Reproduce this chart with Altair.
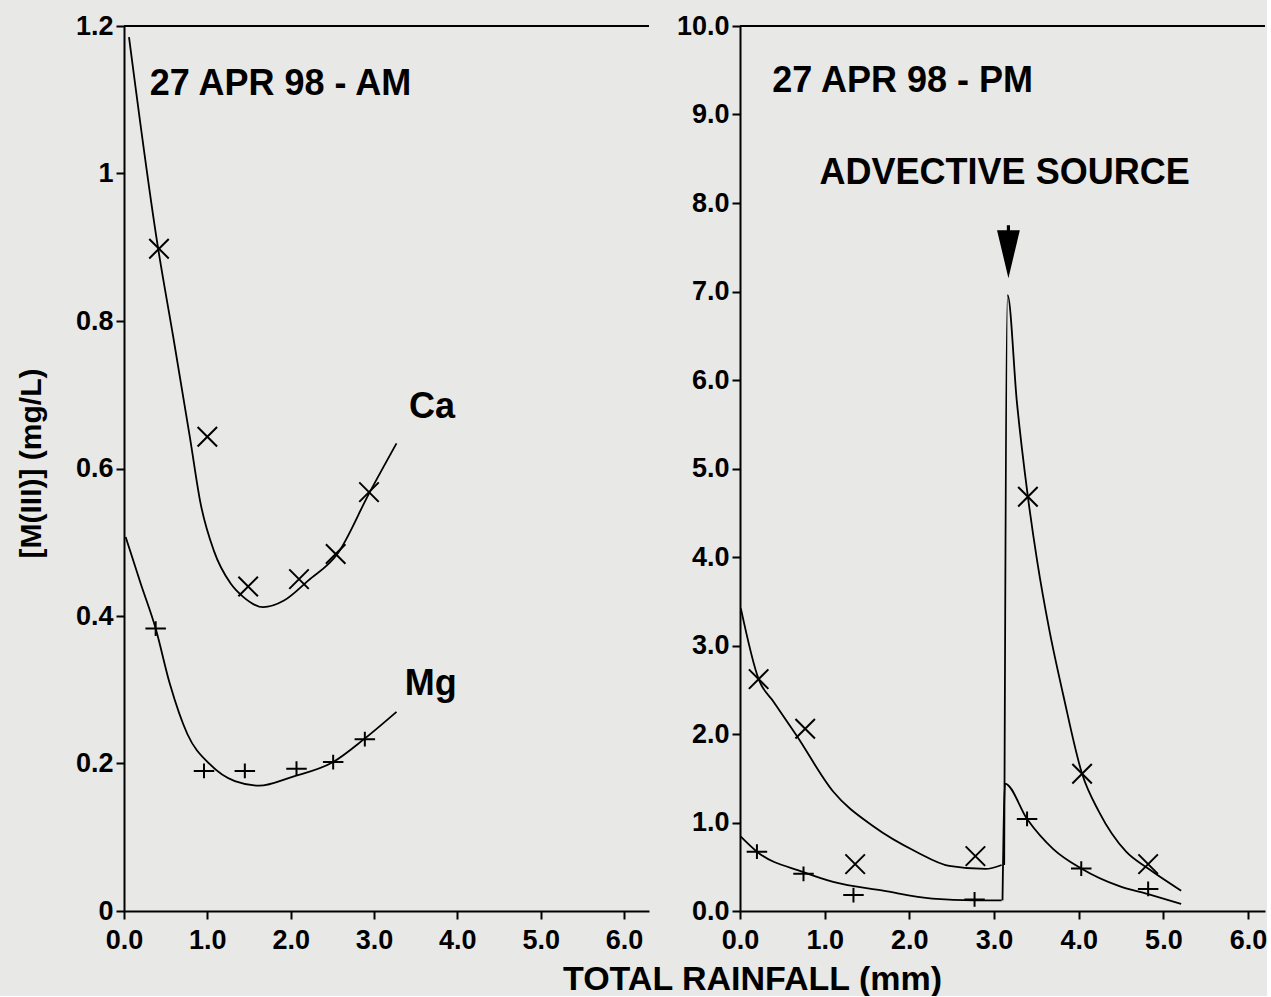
import altair as alt
import pandas as pd

# ---------------- data ----------------
# Left panel: 27 APR 98 - AM
am_ca_pts_x = [0.42, 1.00, 1.49, 2.10, 2.54, 2.94]
am_ca_pts_y = [0.898, 0.643, 0.440, 0.450, 0.484, 0.568]
am_mg_pts_x = [0.38, 0.96, 1.45, 2.07, 2.51, 2.89]
am_mg_pts_y = [0.383, 0.190, 0.190, 0.193, 0.202, 0.233]

am_ca_fit_x = [0.06, 0.41, 0.59, 0.79, 0.92, 1.08, 1.28, 1.43, 1.67, 1.92, 2.21, 2.56, 2.94, 3.27]
am_ca_fit_y = [1.185, 0.898, 0.779, 0.643, 0.552, 0.488, 0.444, 0.426, 0.412, 0.421, 0.448, 0.484, 0.566, 0.634]
am_mg_fit_x = [0.02, 0.20, 0.38, 0.55, 0.76, 1.03, 1.33, 1.62, 2.02, 2.51, 2.88, 3.27]
am_mg_fit_y = [0.507, 0.444, 0.383, 0.308, 0.240, 0.199, 0.176, 0.170, 0.182, 0.202, 0.233, 0.270]

# Right panel: 27 APR 98 - PM
pm_ca_pts_x = [0.22, 0.77, 1.36, 2.78, 3.40, 4.04, 4.82]
pm_ca_pts_y = [2.62, 2.06, 0.53, 0.62, 4.68, 1.55, 0.53]
pm_mg_pts_x = [0.20, 0.75, 1.34, 2.77, 3.39, 4.03, 4.82]
pm_mg_pts_y = [0.67, 0.42, 0.18, 0.13, 1.04, 0.48, 0.25]

pm_ca_fit1_x = [0.01, 0.22, 0.40, 0.67, 1.10, 1.57, 2.08, 2.47, 2.90, 3.09]
pm_ca_fit1_y = [3.42, 2.62, 2.36, 1.98, 1.35, 0.96, 0.67, 0.51, 0.475, 0.52]
pm_ca_fit2_x = [3.12, 3.16, 3.27, 3.40, 3.51, 3.65, 3.82, 4.04, 4.24, 4.56, 4.82, 5.21]
pm_ca_fit2_y = [0.52, 6.96, 5.75, 4.68, 3.95, 3.19, 2.43, 1.55, 1.12, 0.67, 0.48, 0.23]
pm_mg_fit1_x = [0.01, 0.20, 0.75, 1.10, 1.69, 2.27, 2.77, 3.09]
pm_mg_fit1_y = [0.84, 0.67, 0.44, 0.33, 0.23, 0.14, 0.12, 0.12]
pm_mg_fit2_x = [3.10, 3.13, 3.39, 3.70, 4.03, 4.48, 4.82, 5.21]
pm_mg_fit2_y = [0.12, 1.44, 1.04, 0.70, 0.48, 0.28, 0.19, 0.08]

x_ticks = [0, 1, 2, 3, 4, 5, 6]
am_y_ticks = [0, 0.2, 0.4, 0.6, 0.8, 1.0, 1.2]
pm_y_ticks = [0, 1, 2, 3, 4, 5, 6, 7, 8, 9, 10]

am_labels = ["27 APR 98 - AM", "Ca", "Mg"]
am_label_x = [0.31, 3.42, 3.37]
am_label_y = [1.122, 0.684, 0.308]
pm_labels = ["27 APR 98 - PM", "ADVECTIVE SOURCE"]
pm_label_x = [0.38, 0.94]
pm_label_y = [9.38, 8.34]
arrow_x = [3.17]
arrow_y = [7.45]

# ---------------- styling ----------------
FONT = "Liberation Sans"
BG = "#e8e8e6"
X_PATH = "M -1 -1 L 1 1 M -1 1 L 1 -1"
PLUS_PATH = "M -1 0 L 1 0 M 0 -0.72 L 0 0.72"
ARROW_PATH = ("M -0.06 -1 L 0.06 -1 L 0.06 -0.81 L 0.43 -0.81 L 0 1 "
              "L -0.43 -0.81 L -0.06 -0.81 Z")

axis_style = dict(domainColor="black", domainWidth=2, tickColor="black",
                  tickWidth=2, tickSize=8, labelFont=FONT, labelFontSize=27,
                  labelFontWeight="bold", labelColor="black", grid=False,
                  labelFlush=False, labelOverlap=False,
                  titleFont=FONT, titleFontWeight="bold", titleColor="black")


def df(xs, ys):
    return pd.DataFrame({"x": xs, "y": ys})


def panel(xdom, ydom, width, height, xaxis, yaxis, fits, ca_pts, mg_pts,
          labels, ymax, extra=None):
    xs = alt.Scale(domain=xdom, nice=False, zero=False)
    ys = alt.Scale(domain=ydom, nice=False, zero=False)
    X = alt.X("x:Q", scale=xs, axis=xaxis)
    Y = alt.Y("y:Q", scale=ys, axis=yaxis)
    layers = []
    for fx, fy in fits:
        layers.append(
            alt.Chart(df(fx, fy)).mark_line(color="black", strokeWidth=1.8,
                                            interpolate="monotone")
            .encode(x=X, y=Y, order="x:Q"))
    layers.append(
        alt.Chart(df(*ca_pts)).mark_point(shape=X_PATH, size=380, color="black",
                                          filled=False, strokeWidth=2, opacity=1)
        .encode(x=X, y=Y))
    layers.append(
        alt.Chart(df(*mg_pts)).mark_point(shape=PLUS_PATH, size=420, color="black",
                                          filled=False, strokeWidth=2, opacity=1)
        .encode(x=X, y=Y))
    texts, tx, ty = labels
    layers.append(
        alt.Chart(pd.DataFrame({"t": texts, "x": tx, "y": ty}))
        .mark_text(align="left", baseline="middle", font=FONT, fontSize=36,
                   fontWeight="bold", color="black")
        .encode(x=X, y=Y, text="t:N"))
    layers.append(
        alt.Chart(pd.DataFrame({"y": [ymax]})).mark_rule(color="black", strokeWidth=2)
        .encode(y=Y))
    if extra is not None:
        layers.append(
            alt.Chart(df(*extra)).mark_point(shape=ARROW_PATH, size=2809,
                                             color="black", filled=True, opacity=1)
            .encode(x=X, y=Y))
    return alt.layer(*layers).properties(width=width, height=height)


left_xaxis = alt.Axis(values=x_ticks, format=".1f", title=None, labelPadding=8,
                      **axis_style)
left_yaxis = alt.Axis(values=am_y_ticks, title="[M(III)] (mg/L)",
                      labelExpr="datum.value == 0 ? '0' : (datum.value == 1 ? '1' : format(datum.value, '.1f'))",
                      labelPadding=3, titleFontSize=30, titleX=-93, titleY=437,
                      titleAngle=270, titleAlign="center", titleBaseline="middle",
                      **axis_style)
right_xaxis = alt.Axis(values=x_ticks, format=".1f", title="TOTAL RAINFALL (mm)",
                       labelPadding=8, titleFontSize=34, titleX=12, titleY=78,
                       titleAlign="center", titleBaseline="alphabetic",
                       **axis_style)
right_yaxis = alt.Axis(values=pm_y_ticks, format=".1f", title=None, labelPadding=3,
                       **axis_style)

left = panel([0, 6.3], [0, 1.2], 525, 885, left_xaxis, left_yaxis,
             [(am_ca_fit_x, am_ca_fit_y), (am_mg_fit_x, am_mg_fit_y)],
             (am_ca_pts_x, am_ca_pts_y), (am_mg_pts_x, am_mg_pts_y),
             (am_labels, am_label_x, am_label_y), 1.2)
right = panel([0, 6.2], [0, 10], 525, 885, right_xaxis, right_yaxis,
              [(pm_ca_fit1_x, pm_ca_fit1_y), (pm_ca_fit2_x, pm_ca_fit2_y),
               (pm_mg_fit1_x, pm_mg_fit1_y), (pm_mg_fit2_x, pm_mg_fit2_y)],
              (pm_ca_pts_x, pm_ca_pts_y), (pm_mg_pts_x, pm_mg_pts_y),
              (pm_labels, pm_label_x, pm_label_y), 10, extra=(arrow_x, arrow_y))

chart = (alt.hconcat(left, right, spacing=91, bounds="flush")
         .properties(background=BG,
                     padding={"left": 16, "top": 12, "right": 0, "bottom": 0})
         .configure_view(strokeWidth=0))

chart.save("out.html", embed_options={"renderer": "svg", "actions": False})
